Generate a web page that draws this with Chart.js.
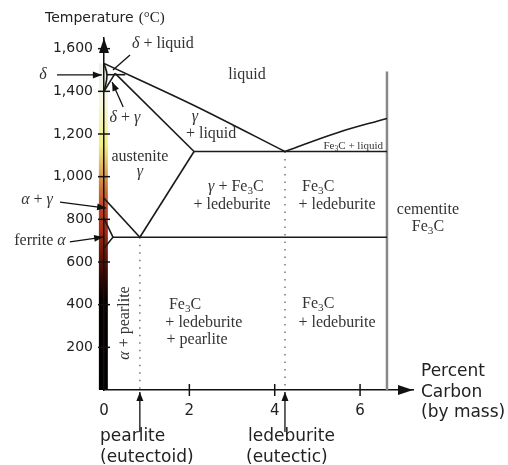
<!DOCTYPE html>
<html>
<head>
<meta charset="utf-8">
<script src="https://cdn.jsdelivr.net/npm/chart.js@4"></script>
<style>
html, body { margin: 0; padding: 0; background: #fff; }
</style>
</head>
<body>
<canvas id="chart" width="508" height="465"></canvas>
<script>
// Iron-carbon phase diagram

// Axis ticks
const xTicks = [0, 2, 4, 6];
const yTicks = [200, 400, 600, 800, 1000, 1200, 1400, 1600];

// Phase boundaries: percent carbon / temperature (C)
const deltaC = [0, 0.07, 0];
const deltaT = [1531, 1474, 1400];
const peritecticC = [0.07, 0.5];
const peritecticT = [1478, 1478];
const deltaGammaC = [0, 0.26];
const deltaGammaT = [1400, 1484];
const solidusC = [0.26, 2.11];
const solidusT = [1484, 1118];
const liquidusC = [0, 2.1, 4.24];
const liquidusT = [1531, 1335, 1118];
const eutecticC = [2.11, 6.63];
const eutecticT = [1118, 1118];
const cementLiquidC = [4.24, 5.45, 6.63];
const cementLiquidT = [1118, 1205, 1273];
const acmC = [2.11, 0.84];
const acmT = [1118, 716];
const a3C = [0, 0.84];
const a3T = [899, 716];
const ferriteC = [0, 0.21, 0];
const ferriteT = [805, 716, 665];
const eutectoidC = [0.21, 6.63];
const eutectoidT = [716, 716];
const cementiteC = [6.63, 6.63];
const cementiteT = [0, 1493];
const pearliteC = [0.84, 0.84];
const pearliteT = [716, 0];
const ledeburiteC = [4.24, 4.24];
const ledeburiteT = [1118, 0];

const pts = (cs, ts) => cs.map((c, i) => ({ x: c, y: ts[i] }));

function line(cs, ts, extra) {
    return Object.assign({
        data: pts(cs, ts),
        showLine: true,
        borderColor: '#1a1a1a',
        borderWidth: 1.6,
        pointRadius: 0,
        pointHoverRadius: 0,
        fill: false,
        tension: 0
    }, extra || {});
}

// Region names (placed in data coordinates)
const regionLabels = [
    { text: 'liquid', c: 3.35, t: 1477 },
    { text: 'γ', c: 2.13, t: 1280 },
    { text: '+ liquid', c: 2.51, t: 1200 },
    { text: 'δ + γ', c: 0.49, t: 1275 },
    { text: 'δ + liquid', c: 1.38, t: 1622 },
    { text: 'austenite', c: 0.84, t: 1092 },
    { text: 'γ', c: 0.84, t: 1022 },
    { text: 'γ + Fe₃C', c: 3.09, t: 952 },
    { text: '+ ledeburite', c: 3.0, t: 867 },
    { text: 'Fe₃C', c: 5.02, t: 952 },
    { text: '+ ledeburite', c: 5.46, t: 867 },
    { text: 'cementite', c: 7.59, t: 844 },
    { text: 'Fe₃C', c: 7.59, t: 764 },
    { text: 'Fe₃C + liquid', c: 5.84, t: 1144, size: 11 },
    { text: 'Fe₃C', c: 1.9, t: 398 },
    { text: '+ ledeburite', c: 2.34, t: 314 },
    { text: '+ pearlite', c: 2.18, t: 234 },
    { text: 'Fe₃C', c: 5.02, t: 403 },
    { text: '+ ledeburite', c: 5.46, t: 314 },
    { text: 'δ', c: -1.43, t: 1477 },
    { text: 'α + γ', c: -1.57, t: 891 },
    { text: 'ferrite α', c: -1.5, t: 698 }
];

// Pointer arrows [fromC, fromT, toC, toT, head]
const pointers = [
    [-1.1, 1477, -0.05, 1477, true],
    [0.61, 1570, 0.21, 1500, false],
    [0.45, 1327, 0.19, 1444, true],
    [-1.03, 881, 0.05, 853, true],
    [-0.8, 694, -0.02, 717, true],
    [0.84, -197, 0.84, -9, true],
    [4.24, -197, 4.24, -9, true]
];

function richText(ctx, text, x, y, size, align) {
    const runs = [];
    for (const ch of text) {
        let kind = 'n';
        if ('αγδ'.includes(ch)) kind = 'i';
        else if (ch === '₃') kind = 's';
        const last = runs[runs.length - 1];
        if (last && last.kind === kind) last.t += ch;
        else runs.push({ t: kind === 's' ? '3' : ch, kind });
    }
    const fontOf = k => k === 'i' ? `italic ${size}px "Liberation Serif"`
        : k === 's' ? `${size * 0.7}px "Liberation Serif"` : `${size}px "Liberation Serif"`;
    let w = 0;
    runs.forEach(r => { ctx.font = fontOf(r.kind); r.w = ctx.measureText(r.t).width; w += r.w; });
    let cx = align === 'left' ? x : x - w / 2;
    ctx.textAlign = 'left';
    ctx.textBaseline = 'middle';
    runs.forEach(r => {
        ctx.font = fontOf(r.kind);
        ctx.fillText(r.t, cx, r.kind === 's' ? y + size * 0.25 : y);
        cx += r.w;
    });
}

function arrow(ctx, x1, y1, x2, y2, head) {
    ctx.beginPath();
    ctx.moveTo(x1, y1);
    ctx.lineTo(x2, y2);
    ctx.stroke();
    if (!head) return;
    const a = Math.atan2(y2 - y1, x2 - x1);
    const L = 9, W = 3.5;
    ctx.beginPath();
    ctx.moveTo(x2, y2);
    ctx.lineTo(x2 - L * Math.cos(a) + W * Math.sin(a), y2 - L * Math.sin(a) - W * Math.cos(a));
    ctx.lineTo(x2 - L * Math.cos(a) - W * Math.sin(a), y2 - L * Math.sin(a) + W * Math.cos(a));
    ctx.closePath();
    ctx.fill();
}

const phaseDiagram = {
    id: 'phaseDiagram',
    beforeDraw(chart) {
        // temperature colour strip along the y axis
        const { ctx, scales: { x, y } } = chart;
        const x0 = x.getPixelForValue(-0.12), x1 = x.getPixelForValue(0.09);
        const yb = y.getPixelForValue(0), yt = y.getPixelForValue(1530);
        const g = ctx.createLinearGradient(0, yb, 0, yt);
        const stops = [[0, '#000000'], [430, '#0a0000'], [550, '#3a0a04'], [650, '#701808'],
            [750, '#a82a14'], [850, '#bc4020'], [950, '#cc7838'], [1050, '#e2b860'],
            [1150, '#f2ef80'], [1250, '#f5f3b0'], [1350, '#f8f8e0'], [1530, '#eeeeee']];
        stops.forEach(s => g.addColorStop(s[0] / 1530, s[1]));
        ctx.save();
        ctx.fillStyle = g;
        ctx.fillRect(x0, yt, x1 - x0, yb - yt);
        ctx.restore();
    },
    afterDraw(chart) {
        const { ctx, chartArea: area, scales: { x, y } } = chart;
        const ax = x.getPixelForValue(0), ay = y.getPixelForValue(0);
        ctx.save();
        ctx.strokeStyle = '#111';
        ctx.fillStyle = '#111';
        ctx.lineWidth = 1.5;

        // tick marks crossing the axes
        yTicks.forEach(v => {
            const py = y.getPixelForValue(v);
            ctx.beginPath(); ctx.moveTo(ax - 6, py); ctx.lineTo(ax + 6, py); ctx.stroke();
        });
        xTicks.slice(1).forEach(v => {
            const px = x.getPixelForValue(v);
            ctx.beginPath(); ctx.moveTo(px, ay - 6); ctx.lineTo(px, ay + 6); ctx.stroke();
        });

        // axis arrowheads
        ctx.beginPath();
        ctx.moveTo(ax, area.top); ctx.lineTo(ax - 5, area.top + 15); ctx.lineTo(ax + 5, area.top + 15);
        ctx.closePath(); ctx.fill();
        ctx.beginPath();
        ctx.moveTo(area.right, ay); ctx.lineTo(area.right - 15, ay - 5); ctx.lineTo(area.right - 15, ay + 5);
        ctx.closePath(); ctx.fill();

        // pointers
        ctx.lineWidth = 1.3;
        pointers.forEach(p => arrow(ctx, x.getPixelForValue(p[0]), y.getPixelForValue(p[1]),
            x.getPixelForValue(p[2]), y.getPixelForValue(p[3]), p[4]));

        // region labels
        ctx.fillStyle = '#333';
        regionLabels.forEach(l => richText(ctx, l.text, x.getPixelForValue(l.c), y.getPixelForValue(l.t), l.size || 16));

        ctx.save();
        ctx.translate(x.getPixelForValue(0.49), y.getPixelForValue(314));
        ctx.rotate(-Math.PI / 2);
        richText(ctx, 'α + pearlite', 0, 0, 16);
        ctx.restore();

        // axis titles and notes
        ctx.fillStyle = '#222';
        ctx.textAlign = 'left';
        ctx.textBaseline = 'middle';
        ctx.font = '14px "DejaVu Sans"';
        ctx.fillText('Temperature', 45, 18);
        const tw = ctx.measureText('Temperature').width;
        ctx.font = '15px "Liberation Serif"';
        ctx.fillText('(°C)', 45 + tw + 5, 18);

        ctx.font = '17px "DejaVu Sans"';
        ctx.fillText('pearlite', 100, 437);
        ctx.fillText('(eutectoid)', 100, 458);
        ctx.fillText('ledeburite', 248, 437);
        ctx.fillText('(eutectic)', 246, 458);
        ctx.fillText('Percent', 421, 372);
        ctx.fillText('Carbon', 421, 393);
        ctx.fillText('(by mass)', 421, 413);
        ctx.restore();
    }
};

new Chart(document.getElementById('chart'), {
    type: 'scatter',
    data: {
        datasets: [
            line(deltaC, deltaT, { tension: 0.45 }),
            line(peritecticC, peritecticT),
            line(deltaGammaC, deltaGammaT),
            line(solidusC, solidusT),
            line(liquidusC, liquidusT, { tension: 0.3 }),
            line(eutecticC, eutecticT),
            line(cementLiquidC, cementLiquidT, { tension: 0.4 }),
            line(acmC, acmT),
            line(a3C, a3T),
            line(ferriteC, ferriteT),
            line(eutectoidC, eutectoidT),
            line(cementiteC, cementiteT, { borderColor: '#888', borderWidth: 2.5 }),
            line(pearliteC, pearliteT, { borderColor: '#777', borderWidth: 1.5, borderDash: [1.5, 6] }),
            line(ledeburiteC, ledeburiteT, { borderColor: '#777', borderWidth: 1.5, borderDash: [1.5, 6] })
        ]
    },
    options: {
        responsive: false,
        animation: false,
        events: [],
        layout: { padding: { left: 0, top: 38, right: 95, bottom: 0 } },
        plugins: { legend: { display: false }, tooltip: { enabled: false } },
        scales: {
            x: {
                type: 'linear',
                min: 0,
                max: 7.24,
                afterFit: s => { s.height = 75; },
                afterBuildTicks: s => { s.ticks = xTicks.map(v => ({ value: v })); },
                grid: { display: false, drawTicks: false },
                border: { color: '#111', width: 1.5 },
                ticks: {
                    font: { family: 'DejaVu Sans', size: 15 },
                    color: '#222',
                    padding: 12,
                    maxRotation: 0,
                    autoSkip: false,
                    callback: v => String(v)
                }
            },
            y: {
                type: 'linear',
                min: 0,
                max: 1650,
                afterFit: s => { s.width = 104; },
                afterBuildTicks: s => { s.ticks = yTicks.map(v => ({ value: v })); },
                grid: { display: false, drawTicks: false },
                border: { color: '#111', width: 1.5 },
                ticks: {
                    font: { family: 'DejaVu Sans', size: 14 },
                    color: '#222',
                    padding: 11,
                    autoSkip: false,
                    callback: v => v.toLocaleString('en-US')
                }
            }
        }
    },
    plugins: [phaseDiagram]
});
</script>
</body>
</html>
